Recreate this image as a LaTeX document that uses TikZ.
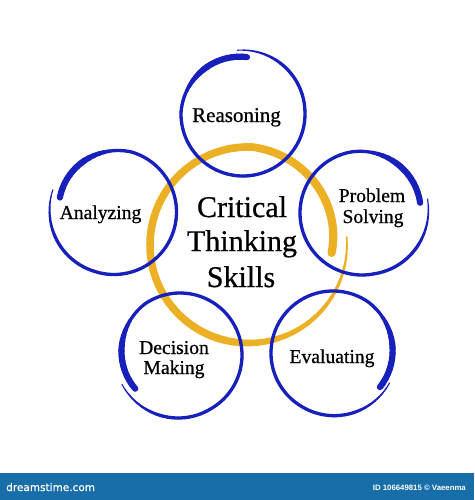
\documentclass[tikz,border=0pt]{standalone}
\usepackage{fontspec}
\setmainfont[FakeBold=0.7]{Liberation Serif}
\newfontfamily\heavyserif[FakeBold=0.7]{Liberation Serif}
\newfontfamily\bannerfont[FakeBold=0.6]{DejaVu Sans}
\newfontfamily\idfont{Liberation Sans}
\definecolor{ringblue}{RGB}{24,32,188}
\definecolor{ringgold}{RGB}{235,176,36}
\definecolor{bannerblue}{RGB}{24,110,168}

% ring geometry: centre x, centre y, radius at start, middle, end, start angle, end angle
\newcommand\setring[7]{\def\cX{#1}\def\cY{#2}\def\rS{#3}\def\rM{#4}\def\rE{#5}\def\aS{#6}\def\aE{#7}}
% stroke widths: start, middle, end, ramp end, thick start, thick full
\newcommand\setwidth[6]{\def\wS{#1}\def\wM{#2}\def\wE{#3}\def\fR{#4}\def\fTa{#5}\def\fTb{#6}}
\newcommand\drawring[1]{%
  \foreach \k in {0,...,71}{%
    \pgfmathsetmacro\fa{\k/72}%
    \pgfmathsetmacro\fb{(\k+1)/72}%
    \pgfmathsetmacro\fm{(\k+0.5)/72}%
    \pgfmathsetmacro\wid{\wS+(\wM-\wS)*min(\fm/\fR,1)+(\wE-\wM)*max(0,min((\fm-\fTa)/(\fTb-\fTa),1))}%
    \draw[#1, line width=\wid pt, line cap=round]
      plot[domain=\fa:\fb, samples=4, variable=\myq]
      ({\cX+rr(\myq)*cos(aa(\myq))},{\cY-rr(\myq)*sin(aa(\myq))});
  }}

\tikzset{
  label/.style={inner sep=0pt, anchor=base, font=\heavyserif\fontsize{19.6}{23}\selectfont},
  biglabel/.style={inner sep=0pt, anchor=base, font=\heavyserif\fontsize{30}{35}\selectfont},
}

\begin{document}
\begin{tikzpicture}[x=1pt, y=-1pt,
  declare function={aa(\q)=\aS+(\aE-\aS)*\q;
    rr(\q)=\rM+(\rS-\rM)*max(0,1-\q/0.25)+(\rE-\rM)*max(0,(\q-0.75)/0.25);}]
\useasboundingbox (0,0) rectangle (474,500);
\fill[white] (0,0) rectangle (474,500);

% central gold ring
\setwidth{1.5}{7.5}{8.2}{0.3}{0.7}{0.9}
\setring{248}{245}{99}{98}{84}{4.6}{-365.4}
\drawring{ringgold}

% blue rings
\setwidth{1}{3.3}{6.2}{0.12}{0.8}{0.88}
\setring{243}{114}{64}{62}{57}{95}{-274}
\drawring{ringblue}
\setring{362}{213}{67}{62}{59}{12}{-350}
\drawring{ringblue}
\setring{114}{212}{65}{62.5}{56}{160}{525}
\drawring{ringblue}
\setring{180}{355}{65}{62}{56}{207}{577}
\drawring{ringblue}
\setring{333}{353}{64}{62}{58}{-28}{-396}
\drawring{ringblue}

% texts
\node[biglabel] (crit1) at (242,217) {Critical};
\node[biglabel] (crit2) at (242,251) {Thinking};
\node[biglabel] (crit3) at (241,287) {Skills};

\node[label, font=\heavyserif\fontsize{21}{25}\selectfont] (reason) at (236.5,122) {Reasoning};
\node[label] (analyz) at (100.5,219) {Analyzing};
\node[label] (prob1) at (372,202) {Problem};
\node[label] (prob2) at (373,223) {Solving};
\node[label] (dec1) at (174,354) {Decision};
\node[label] (dec2) at (174,374) {Making};
\node[label] (eval) at (332,363) {Evaluating};

% banner
\fill[bannerblue] (0,473) rectangle (474,500);
\node[inner sep=0pt, anchor=base west, text=white, font=\bannerfont\fontsize{10.5}{12}\selectfont] (wm) at (6,491) {dreamstime.com};
\node[inner sep=0pt, anchor=base east, text=white, font=\idfont\bfseries\fontsize{7.8}{9}\selectfont] (idtext) at (466,490) {ID 106649815 © Vaeenma};
\end{tikzpicture}
\end{document}
